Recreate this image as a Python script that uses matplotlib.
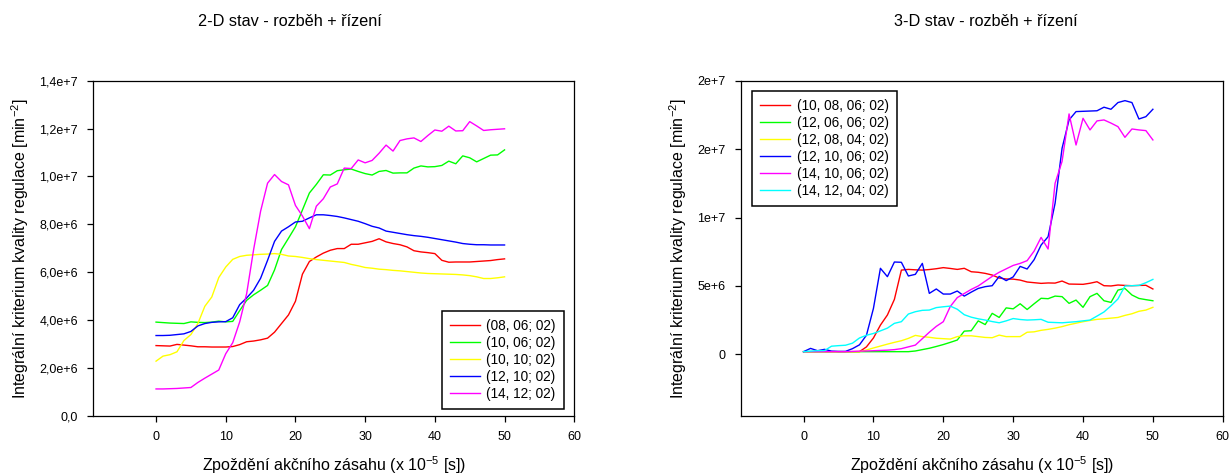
import numpy as np
import matplotlib
matplotlib.use('Agg')
import matplotlib.pyplot as plt
from matplotlib.ticker import FixedLocator, FixedFormatter

plt.rcParams['font.family'] = ['Liberation Sans', 'DejaVu Sans']
plt.rcParams['mathtext.default'] = 'regular'

# delay of the control action (x 1e-5 s)
delay = np.arange(0, 51)

# ---- 2-D state, criterion values in 1e6 ----
names_2d = ['(08, 06; 02)', '(10, 06; 02)', '(10, 10; 02)', '(12, 10; 02)', '(14, 12; 02)']
d2_0806 = [2.94, 2.93, 2.92, 2.99, 2.96, 2.93, 2.89, 2.89, 2.88, 2.88, 2.88, 2.90, 2.98, 3.10, 3.13,
           3.18, 3.25, 3.50, 3.86, 4.22, 4.79, 5.92, 6.45, 6.64, 6.80, 6.92, 6.99, 6.99, 7.17, 7.17,
           7.23, 7.29, 7.40, 7.27, 7.20, 7.15, 7.06, 6.90, 6.85, 6.82, 6.78, 6.50, 6.42, 6.43, 6.43,
           6.43, 6.45, 6.47, 6.49, 6.53, 6.56]
d2_1006 = [3.92, 3.90, 3.88, 3.87, 3.86, 3.93, 3.91, 3.90, 3.92, 3.96, 3.93, 3.95, 4.40, 4.83, 5.06,
           5.25, 5.45, 6.10, 6.95, 7.42, 7.90, 8.60, 9.31, 9.67, 10.07, 10.06, 10.24, 10.28, 10.31, 10.21,
           10.12, 10.06, 10.21, 10.25, 10.14, 10.15, 10.15, 10.35, 10.44, 10.40, 10.41, 10.46, 10.64, 10.53, 10.86,
           10.78, 10.61, 10.75, 10.89, 10.90, 11.11]
d2_1010 = [2.29, 2.50, 2.56, 2.68, 3.15, 3.40, 3.86, 4.58, 4.97, 5.78, 6.22, 6.54, 6.66, 6.71, 6.73,
           6.75, 6.76, 6.78, 6.75, 6.68, 6.66, 6.62, 6.57, 6.53, 6.50, 6.47, 6.44, 6.41, 6.33, 6.27,
           6.20, 6.17, 6.13, 6.11, 6.08, 6.06, 6.03, 6.00, 5.97, 5.95, 5.94, 5.93, 5.92, 5.91, 5.89,
           5.86, 5.81, 5.74, 5.74, 5.77, 5.81]
d2_1210 = [3.36, 3.36, 3.37, 3.40, 3.43, 3.53, 3.76, 3.86, 3.91, 3.93, 3.94, 4.10, 4.65, 4.93, 5.25,
           5.75, 6.50, 7.29, 7.72, 7.90, 8.10, 8.13, 8.27, 8.40, 8.40, 8.37, 8.33, 8.27, 8.20, 8.13,
           8.03, 7.92, 7.85, 7.72, 7.67, 7.62, 7.57, 7.53, 7.50, 7.46, 7.41, 7.36, 7.31, 7.26, 7.20,
           7.17, 7.15, 7.15, 7.14, 7.14, 7.14]
d2_1412 = [1.13, 1.13, 1.14, 1.15, 1.17, 1.19, 1.40, 1.58, 1.75, 1.92, 2.60, 3.06, 3.93, 5.11, 6.95,
           8.55, 9.72, 10.08, 9.79, 9.65, 8.79, 8.35, 7.82, 8.76, 9.07, 9.56, 9.69, 10.35, 10.33, 10.69,
           10.57, 10.67, 10.97, 11.31, 11.06, 11.50, 11.57, 11.61, 11.46, 11.71, 11.94, 11.89, 12.10, 11.90, 11.91,
           12.29, 12.11, 11.92, 11.95, 11.97, 11.99]

# ---- 3-D state, criterion values in 1e6 ----
names_3d = ['(10, 08, 06; 02)', '(12, 06, 06; 02)', '(12, 08, 04; 02)',
            '(12, 10, 06; 02)', '(14, 10, 06; 02)', '(14, 12, 04; 02)']
d3_100806 = [0.2, 0.2, 0.2, 0.2, 0.2, 0.2, 0.2, 0.2, 0.2, 0.55, 1.2, 2.14, 2.88, 4.02, 6.16,
             6.21, 6.18, 6.16, 6.20, 6.26, 6.34, 6.28, 6.21, 6.29, 6.04, 6.00, 5.92, 5.80, 5.58, 5.51,
             5.50, 5.43, 5.29, 5.24, 5.19, 5.22, 5.21, 5.36, 5.14, 5.13, 5.12, 5.20, 5.31, 5.02, 5.00,
             5.07, 5.04, 5.02, 5.04, 5.05, 4.78]
d3_120606 = [0.2, 0.2, 0.2, 0.2, 0.2, 0.2, 0.2, 0.2, 0.2, 0.2, 0.2, 0.2, 0.2, 0.2, 0.2,
             0.2, 0.25, 0.35, 0.45, 0.58, 0.72, 0.88, 1.05, 1.70, 1.73, 2.45, 2.18, 3.0, 2.7, 3.4,
             3.33, 3.7, 3.28, 3.7, 4.1, 4.07, 4.26, 4.22, 3.73, 3.97, 3.44, 4.22, 4.46, 3.92, 3.80,
             4.70, 4.82, 4.34, 4.09, 4.0, 3.92]
d3_120804 = [0.2, 0.2, 0.2, 0.2, 0.2, 0.2, 0.2, 0.2, 0.2, 0.32, 0.47, 0.61, 0.75, 0.88, 1.0,
             1.17, 1.39, 1.30, 1.25, 1.18, 1.15, 1.12, 1.30, 1.36, 1.36, 1.30, 1.24, 1.22, 1.41, 1.30,
             1.30, 1.30, 1.62, 1.65, 1.76, 1.83, 1.92, 2.03, 2.17, 2.28, 2.39, 2.48, 2.56, 2.60, 2.65,
             2.70, 2.85, 2.97, 3.15, 3.24, 3.44]
d3_121006 = [0.2, 0.44, 0.27, 0.37, 0.24, 0.22, 0.22, 0.42, 0.7, 1.4, 3.36, 6.29, 5.68, 6.75, 6.73,
             5.73, 5.85, 6.65, 4.46, 4.78, 4.41, 4.41, 4.63, 4.26, 4.55, 4.82, 4.95, 5.02, 5.70, 5.39,
             5.66, 6.43, 6.24, 6.92, 7.99, 8.60, 11.04, 15.06, 17.13, 17.74, 17.76, 17.78, 17.80, 18.06, 17.91,
             18.40, 18.54, 18.40, 17.20, 17.37, 17.91]
d3_141006 = [0.2, 0.2, 0.2, 0.2, 0.2, 0.2, 0.2, 0.22, 0.24, 0.25, 0.27, 0.29, 0.31, 0.35, 0.42,
             0.55, 0.68, 1.15, 1.62, 2.05, 2.39, 3.5, 4.15, 4.45, 4.75, 5.0, 5.35, 5.7, 6.0, 6.25,
             6.5, 6.65, 6.85, 7.55, 8.55, 7.70, 12.5, 14.1, 17.57, 15.30, 17.25, 16.40, 17.06, 17.13, 16.9,
             16.64, 15.86, 16.47, 16.4, 16.35, 15.67]
d3_141204 = [0.2, 0.24, 0.27, 0.28, 0.6, 0.64, 0.67, 0.82, 1.2, 1.4, 1.53, 1.72, 1.92, 2.27, 2.39,
             2.95, 3.12, 3.22, 3.24, 3.42, 3.48, 3.53, 3.3, 2.9, 2.72, 2.6, 2.51, 2.4, 2.31, 2.45,
             2.62, 2.55, 2.51, 2.53, 2.56, 2.35, 2.33, 2.31, 2.35, 2.39, 2.45, 2.51, 2.8, 3.1, 3.55,
             4.05, 5.0, 5.02, 5.04, 5.24, 5.48]

colors = ['#ff0000', '#00ff00', '#ffff00', '#0000ff', '#ff00ff', '#00ffff']

yt_2d = [0, 2e6, 4e6, 6e6, 8e6, 10e6, 12e6, 14e6]
ytl_2d = ['0,0', '2,0e+6', '4,0e+6', '6,0e+6', '8,0e+6', '1,0e+7', '1,2e+7', '1,4e+7']
yt_3d = [0, 5e6, 10e6, 15e6, 20e6]
ytl_3d = ['0', '5e+6', '1e+7', '2e+7', '2e+7']
xt = [0, 10, 20, 30, 40, 50, 60]

fig = plt.figure(figsize=(12.31, 4.75), dpi=100)
ax1 = fig.add_axes([0.0758, 0.1242, 0.3907, 0.706])
ax2 = fig.add_axes([0.6017, 0.1242, 0.3916, 0.706])

series_2d = [d2_0806, d2_1006, d2_1010, d2_1210, d2_1412]
series_3d = [d3_100806, d3_120606, d3_120804, d3_121006, d3_141006, d3_141204]

for i, s in enumerate(series_2d):
    ax1.plot(delay, np.array(s) * 1e6, color=colors[i], lw=1.0, label=names_2d[i])
for i, s in enumerate(series_3d):
    ax2.plot(delay, np.array(s) * 1e6, color=colors[i], lw=1.0, label=names_3d[i])

ax1.set_ylim(0, 14e6)
ax2.set_ylim(-4.5e6, 20e6)
ax1.yaxis.set_major_locator(FixedLocator(yt_2d))
ax1.yaxis.set_major_formatter(FixedFormatter(ytl_2d))
ax2.yaxis.set_major_locator(FixedLocator(yt_3d))
ax2.yaxis.set_major_formatter(FixedFormatter(ytl_3d))

titles = ['2-D stav - rozběh + řízení', '3-D stav - rozběh + řízení']
title_x = [0.409, 0.508]
for ax, t, tx in zip([ax1, ax2], titles, title_x):
    ax.set_xlim(-9, 60)
    ax.set_xticks(xt)
    ax.tick_params(direction='out', length=4, width=0.9, labelsize=9, pad=7,
                   top=False, right=False)
    for sp in ax.spines.values():
        sp.set_linewidth(0.9)
    ax.set_title(t, fontsize=11.7, pad=39, x=tx)
    ax.set_xlabel('Zpoždění akčního zásahu (x 10$^{-5}$ [s])', fontsize=11.5, labelpad=8)
    ax.set_ylabel('Integrální kriterium kvality regulace [min$^{-2}$]', fontsize=11.5, labelpad=6)

leg_kw = dict(fontsize=9.8, fancybox=False, framealpha=1, edgecolor='black',
              handlelength=2.2, handletextpad=0.5, labelspacing=0.22, borderpad=0.6,
              borderaxespad=0)
l1 = ax1.legend(loc='lower right', bbox_to_anchor=(0.979, 0.021), **leg_kw)
l2 = ax2.legend(loc='upper left', bbox_to_anchor=(0.0228, 0.969), **leg_kw)
for lg in (l1, l2):
    lg.get_frame().set_linewidth(1.1)

fig.savefig('out.png', dpi=100)
